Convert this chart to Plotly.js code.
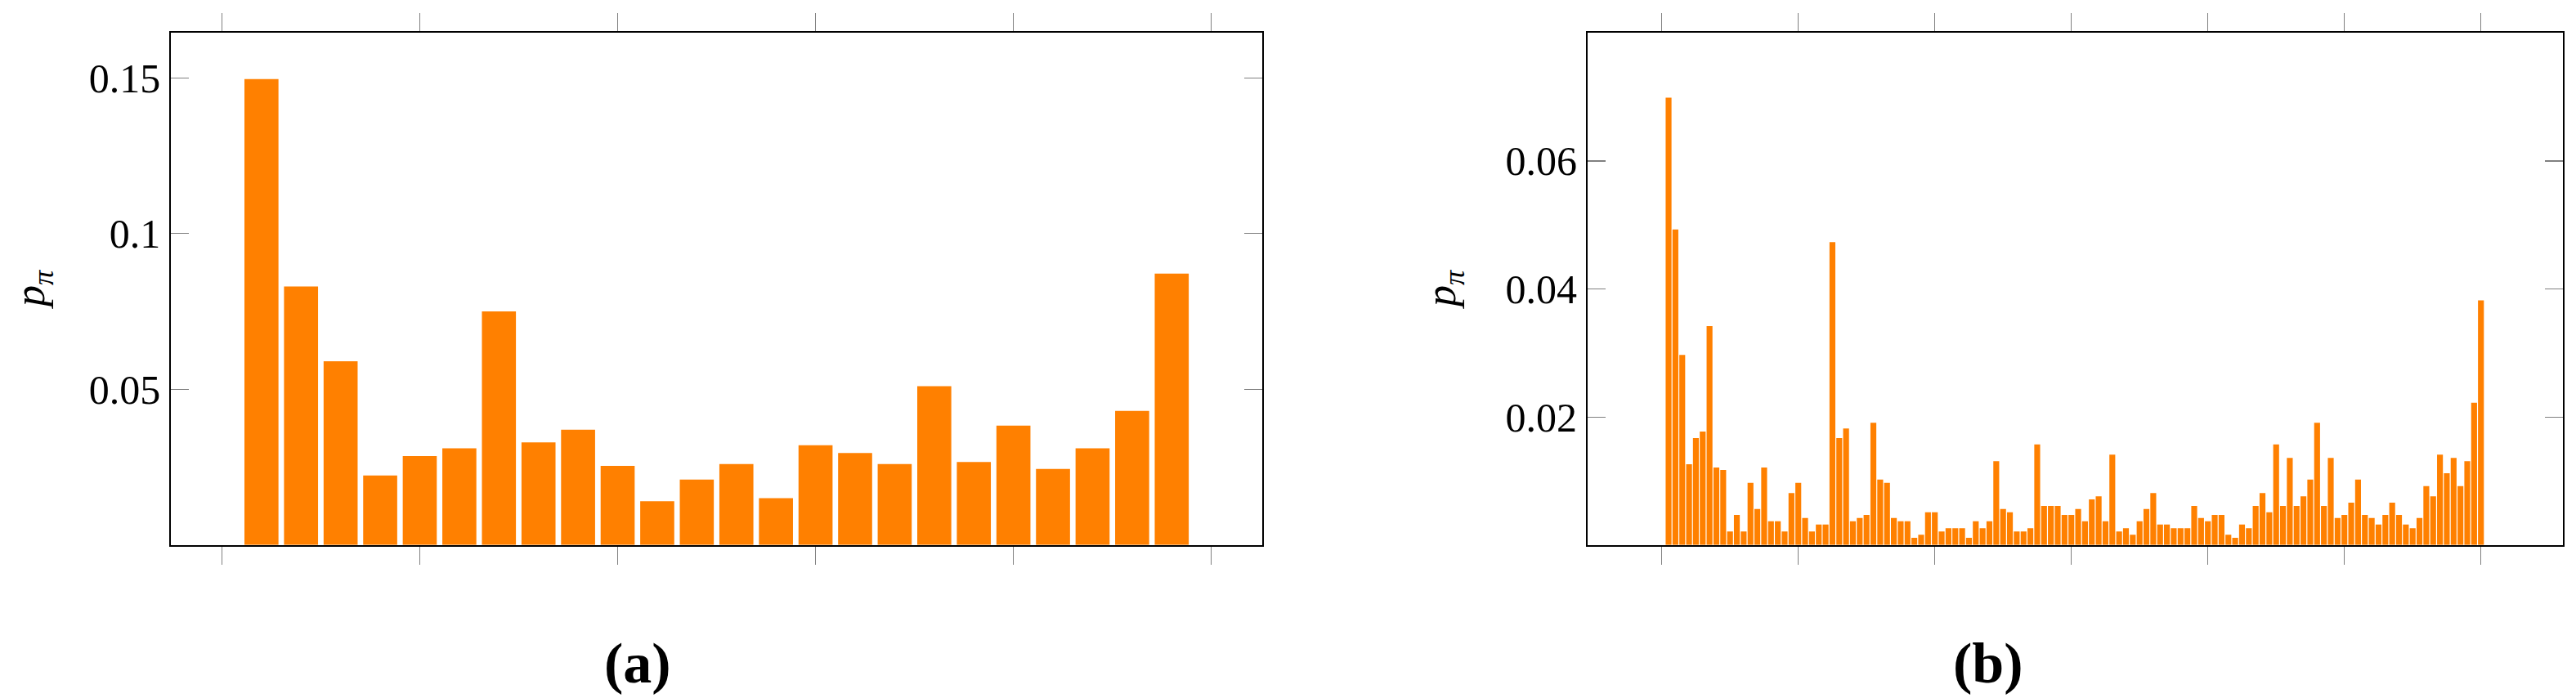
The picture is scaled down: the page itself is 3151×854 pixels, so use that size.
<!DOCTYPE html>
<html>
<head>
<meta charset="utf-8">
<script src="https://cdn.plot.ly/plotly-3.0.1.min.js"></script>
<style>
  html, body { margin: 0; padding: 0; background: #ffffff; }
  #chart { width: 3151px; height: 854px; }
</style>
</head>
<body>
<div id="chart"></div>
<script>
// ---- Data ----
const leftCategories = [1,2,3,4,5,6,7,8,9,10,11,12,13,14,15,16,17,18,19,20,21,22,23,24];
const leftValues = [0.1496,0.0830,0.0590,0.0223,0.0285,0.0310,0.0750,0.0329,0.0370,0.0254,0.0140,0.0210,
                    0.0260,0.0150,0.0320,0.0295,0.0260,0.0510,0.0266,0.0383,0.0244,0.0310,0.0430,0.0871];

const rightValues = [
  0.0699,0.0493,0.0297,0.0126,0.0167,0.0177,0.0342,0.0121,0.0117,0.0021,
  0.0047,0.0021,0.0097,0.0056,0.0121,0.0037,0.0037,0.0021,0.0081,0.0097,
  0.0042,0.0021,0.0032,0.0032,0.0473,0.0167,0.0182,0.0037,0.0042,0.0047,
  0.0191,0.0102,0.0097,0.0042,0.0037,0.0037,0.0011,0.0016,0.0051,0.0051,
  0.0021,0.0026,0.0026,0.0026,0.0011,0.0037,0.0026,0.0037,0.0131,0.0056,
  0.0051,0.0021,0.0021,0.0026,0.0157,0.0061,0.0061,0.0061,0.0047,0.0047,
  0.0056,0.0037,0.0071,0.0076,0.0037,0.0141,0.0021,0.0026,0.0016,0.0037,
  0.0056,0.0081,0.0032,0.0032,0.0026,0.0026,0.0026,0.0061,0.0042,0.0037,
  0.0047,0.0047,0.0016,0.0011,0.0032,0.0026,0.0061,0.0081,0.0051,0.0157,
  0.0061,0.0136,0.0061,0.0076,0.0102,0.0191,0.0061,0.0136,0.0042,0.0047,
  0.0066,0.0102,0.0047,0.0042,0.0032,0.0047,0.0066,0.0047,0.0032,0.0026,
  0.0042,0.0092,0.0076,0.0141,0.0112,0.0136,0.0092,0.0131,0.0222,0.0382
];
const rightCategories = rightValues.map((_, i) => i + 1);

const leftXTicks = [0,5,10,15,20,25];
const leftYTicks = [0.05,0.1,0.15];
const leftYTickLabels = ["0.05","0.1","0.15"];
const rightXTicks = [0,20,40,60,80,100,120];
const rightYTicks = [0.02,0.04,0.06];
const rightYTickLabels = ["0.02","0.04","0.06"];

const yTitle = "<i>p</i><sub><i>π</i></sub>";
const panelLabels = ["(a)", "(b)"];

// ---- Styling ----
const W = 3151, H = 854;
const ORANGE = "#FF8000";
const FONT = "Liberation Serif, Times New Roman, serif";

const traces = [
  { type: "bar", x: leftCategories, y: leftValues, xaxis: "x", yaxis: "y",
    width: 0.86, marker: { color: ORANGE, line: { width: 0 } }, hoverinfo: "x+y" },
  { type: "bar", x: rightCategories, y: rightValues, xaxis: "x2", yaxis: "y2",
    width: 0.86, marker: { color: ORANGE, line: { width: 0 } }, hoverinfo: "x+y" }
];

function xAxis(domain, range, ticks) {
  return {
    domain: domain, range: range, tickmode: "array", tickvals: ticks,
    showticklabels: false, ticks: "outside", ticklen: 22, tickwidth: 1.2, tickcolor: "#808080",
    showline: true, linecolor: "#000000", linewidth: 2, mirror: "ticks",
    showgrid: false, zeroline: false, fixedrange: true
  };
}
function yAxis(domain, range, ticks, labels, anchor) {
  return {
    domain: domain, range: range, anchor: anchor, tickmode: "array", tickvals: ticks, ticktext: labels,
    ticks: "inside", ticklen: 22, tickwidth: 1.2, tickcolor: "#808080",
    ticklabelstandoff: 1,
    tickfont: { family: FONT, size: 50, color: "#000000" },
    showline: true, linecolor: "#000000", linewidth: 2, mirror: "ticks",
    showgrid: false, zeroline: false, fixedrange: true
  };
}

const yDom = [1 - 666.7 / H, 1 - 40.3 / H];
const leftDom = [209.2 / W, 1543.9 / W];
const rightDom = [1942 / W, 3134.5 / W];

const layout = {
  width: W, height: H,
  margin: { l: 0, r: 0, t: 0, b: 0 },
  paper_bgcolor: "#ffffff", plot_bgcolor: "#ffffff",
  showlegend: false,
  font: { family: FONT, color: "#000000" },
  xaxis: Object.assign(xAxis(leftDom, [-1.285, 26.285], leftXTicks), { anchor: "y" }),
  yaxis: yAxis(yDom, [0, 0.1644], leftYTicks, leftYTickLabels, "x"),
  xaxis2: Object.assign(xAxis(rightDom, [-10.86, 131.95], rightXTicks), { anchor: "y2" }),
  yaxis2: yAxis(yDom, [0, 0.0800], rightYTicks, rightYTickLabels, "x2"),
  annotations: [
    { xref: "paper", yref: "paper", x: 40 / W, y: 1 - 354 / H, text: yTitle, textangle: -90, borderpad: 0,
      showarrow: false, xanchor: "center", yanchor: "middle", font: { family: FONT, size: 52, color: "#000" } },
    { xref: "paper", yref: "paper", x: 1766 / W, y: 1 - 354 / H, text: yTitle, textangle: -90, borderpad: 0,
      showarrow: false, xanchor: "center", yanchor: "middle", font: { family: FONT, size: 52, color: "#000" } },
    { xref: "paper", yref: "paper", x: 780 / W, y: 1 - 811 / H, text: "<b>" + panelLabels[0] + "</b>",
      showarrow: false, xanchor: "center", yanchor: "middle", font: { family: FONT, size: 70, color: "#000" } },
    { xref: "paper", yref: "paper", x: 2432 / W, y: 1 - 811 / H, text: "<b>" + panelLabels[1] + "</b>",
      showarrow: false, xanchor: "center", yanchor: "middle", font: { family: FONT, size: 70, color: "#000" } }
  ]
};

Plotly.newPlot("chart", traces, layout, { displayModeBar: false, staticPlot: true });
</script>
</body>
</html>
